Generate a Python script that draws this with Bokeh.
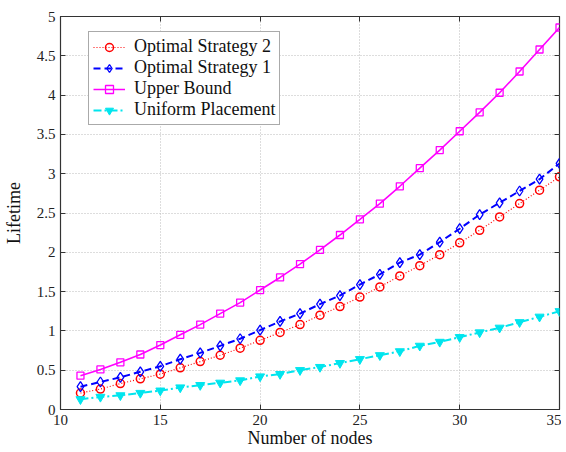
from bokeh.plotting import figure
from bokeh.models import Legend, LegendItem, LinearAxis, FixedTicker
from bokeh.embed import file_html
from bokeh.resources import INLINE

nodes = list(range(11, 36))
opt2 = [0.21, 0.26, 0.33, 0.39, 0.45, 0.53, 0.61, 0.69, 0.78, 0.88, 0.98, 1.08, 1.20,
        1.31, 1.43, 1.56, 1.70, 1.83, 1.97, 2.12, 2.28, 2.45, 2.62, 2.79, 2.96]
opt1 = [0.29, 0.35, 0.41, 0.48, 0.55, 0.64, 0.72, 0.81, 0.90, 1.01, 1.12, 1.22, 1.34,
        1.45, 1.59, 1.72, 1.87, 1.97, 2.13, 2.30, 2.48, 2.63, 2.78, 2.93, 3.13]
upper = [0.43, 0.51, 0.60, 0.70, 0.82, 0.95, 1.08, 1.22, 1.36, 1.52, 1.68, 1.85, 2.03,
         2.22, 2.42, 2.62, 2.84, 3.07, 3.30, 3.54, 3.78, 4.03, 4.30, 4.58, 4.86]
uniform = [0.13, 0.16, 0.18, 0.21, 0.24, 0.28, 0.31, 0.34, 0.37, 0.42, 0.45, 0.50, 0.54,
           0.59, 0.64, 0.69, 0.74, 0.81, 0.86, 0.92, 0.98, 1.04, 1.11, 1.18, 1.25]
x_ticks = [10, 15, 20, 25, 30, 35]
y_ticks = [0, 0.5, 1, 1.5, 2, 2.5, 3, 3.5, 4, 4.5, 5]
y_tick_labels = {0: "0", 0.5: "0.5", 1: "1", 1.5: "1.5", 2: "2", 2.5: "2.5", 3: "3",
                 3.5: "3.5", 4: "4", 4.5: "4.5", 5: "5"}

FONT = "Liberation Serif"

p = figure(frame_width=499, frame_height=393, x_range=(10, 35), y_range=(0, 5),
           output_backend="svg", toolbar_location=None,
           min_border_left=50, min_border_right=2, min_border_top=16, min_border_bottom=10,
           background_fill_color="white", border_fill_color="white")

p.outline_line_color = "#333333"
p.outline_line_width = 1.2

for ax in (p.xaxis[0], p.yaxis[0]):
    ax.major_label_text_font = FONT
    ax.major_label_text_font_size = "15px"
    ax.major_label_text_color = "#222222"
    ax.axis_label_text_font = FONT
    ax.axis_label_text_font_size = "18px"
    ax.axis_label_text_font_style = "normal"
    ax.axis_label_text_color = "#111111"
    ax.major_tick_in = 5
    ax.major_tick_out = 0
    ax.minor_tick_in = 0
    ax.minor_tick_out = 0
    ax.axis_line_color = "#333333"
    ax.major_tick_line_color = "#333333"

p.xaxis.ticker = FixedTicker(ticks=x_ticks)
p.yaxis.ticker = FixedTicker(ticks=y_ticks)
p.yaxis.major_label_overrides = y_tick_labels
p.xaxis.axis_label = "Number of nodes"
p.yaxis.axis_label = "Lifetime"
p.xaxis.major_label_standoff = 5
p.yaxis.major_label_standoff = 5
p.xaxis.axis_label_standoff = 0
p.yaxis.axis_label_standoff = 10

for loc, tick in (("right", y_ticks), ("above", x_ticks)):
    a = LinearAxis(ticker=FixedTicker(ticks=tick),
                   major_label_overrides={t: "" for t in tick},
                   major_tick_in=5, major_tick_out=0, minor_tick_in=0, minor_tick_out=0,
                   axis_line_color=None, major_tick_line_color="#333333",
                   major_label_standoff=0)
    p.add_layout(a, loc)

p.xgrid.ticker = FixedTicker(ticks=x_ticks)
p.ygrid.ticker = FixedTicker(ticks=y_ticks)
for g in (p.xgrid[0], p.ygrid[0]):
    g.grid_line_color = "#bbbbbb"
    g.grid_line_dash = "1 2"
    g.grid_line_width = 1

r1l = p.line(nodes, opt2, line_color="#ff0000", line_width=1.2, line_dash="1 2")
r1m = p.scatter(nodes, opt2, marker="circle", size=8, line_color="#ff0000", line_width=1.5,
                fill_color=None)
r2l = p.line(nodes, opt1, line_color="#0000ff", line_width=2, line_dash="7 4")
r2m = p.scatter(nodes, opt1, marker="diamond", size=10, line_color="#0000ff", line_width=1.3,
                fill_color=None)
r3l = p.line(nodes, upper, line_color="#ff00ff", line_width=1.6)
r3m = p.scatter(nodes, upper, marker="square", size=7, line_color="#ff00ff", line_width=1.3,
                fill_color=None)
r4l = p.line(nodes, uniform, line_color="#00e5ee", line_width=2, line_dash="8 3 2 3")
r4m = p.scatter(nodes, uniform, marker="inverted_triangle", size=9, line_color="#00e5ee",
                fill_color="#00e5ee")

legend = Legend(items=[
    LegendItem(label="Optimal Strategy 2", renderers=[r1l, r1m]),
    LegendItem(label="Optimal Strategy 1", renderers=[r2l, r2m]),
    LegendItem(label="Upper Bound", renderers=[r3l, r3m]),
    LegendItem(label="Uniform Placement", renderers=[r4l, r4m]),
], location=(28, 284))
legend.label_text_font = FONT
legend.label_text_font_size = "18px"
legend.label_text_color = "#111111"
legend.border_line_color = "#555555"
legend.border_line_width = 1
legend.background_fill_alpha = 1
legend.glyph_width = 32
legend.glyph_height = 20
legend.label_height = 20
legend.spacing = 0
legend.padding = 4
legend.margin = 0
legend.label_standoff = 9
p.add_layout(legend, "center")

open("out.html", "w").write(file_html(p, INLINE))
